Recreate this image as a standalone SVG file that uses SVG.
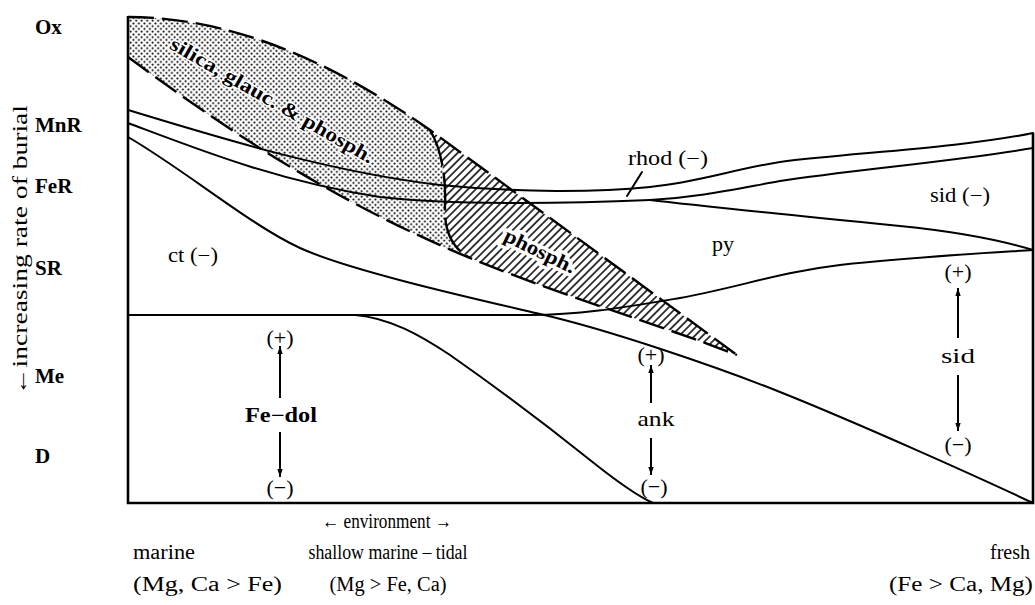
<svg xmlns="http://www.w3.org/2000/svg" width="1035" height="605" viewBox="0 0 1035 605">
<style>
text{font-family:"Liberation Serif","Times New Roman",serif;fill:#000}
.lab{font-size:20px}
.pm{font-size:22px}
.ax{font-size:21px;font-weight:bold}
.b{font-weight:bold}
.ln{fill:none;stroke:#000;stroke-width:2;stroke-linecap:round;stroke-linejoin:round}
.fr{fill:none;stroke:#000;stroke-width:2.6}
.dash{fill:none;stroke:#000;stroke-width:2.4;stroke-dasharray:26 8}
.arr{stroke:#000;stroke-width:2;marker-end:url(#ah)}
.halo{stroke:#fff;stroke-width:7;paint-order:stroke;stroke-linejoin:round}
.halo2{stroke:#fff;stroke-width:3;paint-order:stroke;stroke-linejoin:round}
</style>
<defs>
<pattern id="dots" width="5.5" height="5.5" patternUnits="userSpaceOnUse">
<circle cx="1.4" cy="1.4" r="1.05" fill="#000"/>
<circle cx="4.15" cy="4.15" r="1.05" fill="#000"/>
</pattern>
<pattern id="hatch" width="5.5" height="5.5" patternUnits="userSpaceOnUse" patternTransform="rotate(45)">
<line x1="2.75" y1="-1" x2="2.75" y2="6.5" stroke="#000" stroke-width="1.5"/>
</pattern>
<marker id="ah" markerUnits="userSpaceOnUse" markerWidth="8" markerHeight="13" refX="12" refY="4" orient="auto" viewBox="0 0 12 8">
<path d="M0,0 L12,4 L0,8 Z" fill="#000"/>
</marker>
</defs>
<rect width="1035" height="605" fill="#fff"/>

<g id="lens">
<path d="M128,17 C230,17 330,60 430,130 C443,152 446,182 445,205 C444,228 450,247 470,258 C330,200 220,125 128,57 Z" fill="url(#dots)"/>
<path d="M430,130 L737,355 C660,325 560,295 470,258 C450,247 444,228 445,205 C446,182 443,152 430,130 Z" fill="url(#hatch)"/>
<path class="dash" d="M128,17 C230,17 330,60 430,130 L737,355"/>
<path class="dash" d="M128,57 C220,125 330,200 470,258 C560,295 660,325 737,355"/>
<path class="dash" style="stroke-dasharray:38 7" d="M430,130 C443,152 446,182 445,205 C444,228 450,247 470,258"/>
</g>

<g id="curves">
<path class="ln" d="M128,110 C220,138 330,172 440,185 C520,193 600,192 650,187 C700,182 730,170 780,162 C850,153 960,148 1033,133"/>
<path class="ln" d="M128,123 C200,150 280,182 380,197 C450,205 560,204 650,200 C700,197 730,190 780,181 C850,170 950,162 1033,148"/>
<path class="ln" d="M650,200 C700,206 800,216 900,226 C960,232 1000,240 1033,250"/>
<path class="ln" d="M128,137 C185,170 250,225 300,248 C350,271 480,300 540,314 C610,330 720,368 780,392 C860,424 980,478 1033,503"/>
<path class="ln" d="M128,315 L530,315 C580,315 620,308 680,298 C740,287 780,272 840,265 C900,258 970,254 1033,250"/>
<path class="ln" d="M355,315 C390,318 420,335 450,355 C500,390 550,428 590,460 C615,480 635,495 653,503"/>
<line class="ln" x1="642" y1="172" x2="627" y2="196"/>
</g>

<g id="frame">
<path class="fr" d="M128,16 L128,503 L1033,503 L1033,133"/>
</g>

<g id="lens-labels">
<text class="lab b halo2" x="269" y="106" text-anchor="middle" textLength="232" lengthAdjust="spacingAndGlyphs" transform="rotate(30 269 106)">silica, glauc. &amp; phosph.</text>
<text class="lab b halo" x="537" y="257" text-anchor="middle" textLength="77" lengthAdjust="spacingAndGlyphs" transform="rotate(26 537 257)">phosph.</text>
</g>

<g id="field-labels">
<text class="lab" x="628" y="165" textLength="80" lengthAdjust="spacingAndGlyphs">rhod (−)</text>
<text class="lab" x="712" y="251" style="font-size:22px">py</text>
<text class="lab" x="930" y="202" textLength="60" lengthAdjust="spacingAndGlyphs">sid (−)</text>
<text class="lab" x="168" y="262" textLength="50" lengthAdjust="spacingAndGlyphs">ct (−)</text>
</g>

<g id="fe-dol">
<text class="pm" x="280" y="345" text-anchor="middle">(+)</text>
<text class="lab b" x="281" y="422" text-anchor="middle" textLength="72" lengthAdjust="spacingAndGlyphs">Fe−dol</text>
<text class="pm" x="280" y="495" text-anchor="middle">(−)</text>
</g>
<g id="ank">
<text class="pm" x="651" y="362" text-anchor="middle">(+)</text>
<text class="lab" x="656" y="426" text-anchor="middle" textLength="37" lengthAdjust="spacingAndGlyphs" style="font-size:21px">ank</text>
<text class="pm" x="654" y="494" text-anchor="middle">(−)</text>
</g>
<g id="sid">
<text class="pm" x="958" y="279" text-anchor="middle">(+)</text>
<text class="lab" x="958" y="363" text-anchor="middle" textLength="34" lengthAdjust="spacingAndGlyphs" style="font-size:21px">sid</text>
<text class="pm" x="958" y="452" text-anchor="middle">(−)</text>
</g>

<g id="connectors">
<line class="arr" x1="280" y1="398" x2="280" y2="346"/>
<line class="arr" x1="280" y1="432" x2="280" y2="477"/>
<line class="arr" x1="651" y1="403" x2="651" y2="365"/>
<line class="arr" x1="651" y1="438" x2="651" y2="475"/>
<line class="arr" x1="958" y1="338" x2="958" y2="288"/>
<line class="arr" x1="958" y1="375" x2="958" y2="431"/>
</g>

<g id="y-axis">
<text class="lab" x="27" y="250" text-anchor="middle" textLength="290" lengthAdjust="spacingAndGlyphs" transform="rotate(-90 27 250)" style="font-size:21px">←increasing rate of burial</text>
<text class="ax" x="35" y="34">Ox</text>
<text class="ax" x="35" y="132">MnR</text>
<text class="ax" x="35" y="193">FeR</text>
<text class="ax" x="35" y="275">SR</text>
<text class="ax" x="35" y="383">Me</text>
<text class="ax" x="35" y="463">D</text>
</g>

<g id="x-axis">
<text class="lab" x="387" y="528" text-anchor="middle" textLength="130" lengthAdjust="spacingAndGlyphs">← environment →</text>
<text class="lab" x="133" y="559" textLength="62" lengthAdjust="spacingAndGlyphs">marine</text>
<text class="lab" x="133" y="591" textLength="149" lengthAdjust="spacingAndGlyphs">(Mg, Ca &gt; Fe)</text>
<text class="lab" x="388" y="559" text-anchor="middle" textLength="159" lengthAdjust="spacingAndGlyphs">shallow marine – tidal</text>
<text class="lab" x="388" y="591" text-anchor="middle" textLength="117" lengthAdjust="spacingAndGlyphs">(Mg &gt; Fe, Ca)</text>
<text class="lab" x="1030" y="559" text-anchor="end" textLength="40" lengthAdjust="spacingAndGlyphs">fresh</text>
<text class="lab" x="1033" y="591" text-anchor="end" textLength="144" lengthAdjust="spacingAndGlyphs">(Fe &gt; Ca, Mg)</text>
</g>
</svg>
